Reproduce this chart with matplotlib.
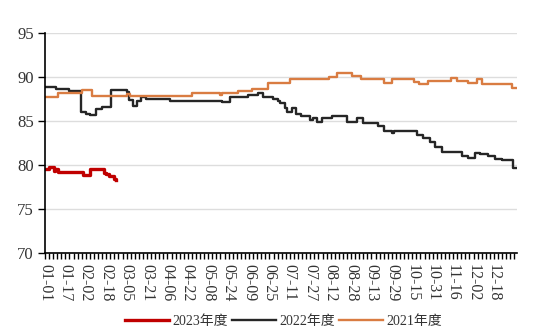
import datetime as dt
import matplotlib
matplotlib.use("Agg")
import matplotlib.pyplot as plt
from matplotlib.ticker import MultipleLocator

plt.rcParams['font.family'] = ['Liberation Serif', 'Noto Sans CJK SC', 'DejaVu Sans']

# step points (day of season, value) for each season
days_2023 = [0, 3, 7, 8, 10, 30, 35, 46, 48, 50, 54, 56]
vals_2023 = [79.5, 79.8, 79.3, 79.5, 79.2, 78.9, 79.5, 79.1, 79.0, 78.7, 78.4, 78.3]

days_2022 = [0, 9, 19, 28, 32, 35, 40, 45, 52, 64, 66, 69, 72, 75, 79, 98,
             139, 145, 159, 167, 171, 179, 183, 184, 188, 190, 194, 197, 201,
             208, 210, 213, 217, 225, 237, 245, 249, 261, 266, 272, 274, 292,
             296, 302, 306, 311, 327, 332, 337, 341, 347, 353, 358, 367, 369]
vals_2022 = [88.85, 88.6, 88.4, 86.0, 85.8, 85.7, 86.3, 86.6, 88.5, 88.3, 87.4,
             86.7, 87.2, 87.7, 87.5, 87.3, 87.1, 87.7, 87.9, 88.1, 87.7, 87.5,
             87.3, 87.0, 86.4, 86.0, 86.4, 85.8, 85.6, 85.1, 85.3, 84.9, 85.3,
             85.5, 84.9, 85.3, 84.8, 84.4, 83.9, 83.6, 83.8, 83.4, 83.0, 82.6,
             82.0, 81.5, 81.0, 80.8, 81.4, 81.2, 81.0, 80.7, 80.5, 79.6, 79.6]

days_2021 = [0, 10, 29, 37, 64, 67, 115, 137, 139, 151, 162, 175, 192, 223,
             229, 241, 248, 266, 272, 289, 293, 300, 318, 323, 332, 339, 343,
             366, 369]
vals_2021 = [87.65, 88.1, 88.5, 87.8, 88.0, 87.8, 88.2, 87.9, 88.2, 88.4, 88.6,
             89.3, 89.8, 90.0, 90.4, 90.1, 89.7, 89.3, 89.7, 89.4, 89.2, 89.5,
             89.9, 89.55, 89.3, 89.7, 89.2, 88.7, 88.7]

labels = ['2023年度', '2022年度', '2021年度']
colors = ['#C00000', '#262626', '#D97C42']

# date labels every 16 days on a leap-year calendar
start = dt.date(2020, 1, 1)
tick_days = list(range(0, 366, 16))
tick_labels = [(start + dt.timedelta(days=d)).strftime('%m-%d') for d in tick_days]

fig = plt.figure(figsize=(5.5, 3.32), dpi=100)
ax = fig.add_axes([0.0818, 0.238, 0.858, 0.6635])

ax.plot(days_2023, vals_2023, drawstyle='steps-post', color=colors[0], lw=2.4, label=labels[0])
ax.plot(days_2022, vals_2022, drawstyle='steps-post', color=colors[1], lw=1.7, label=labels[1])
ax.plot(days_2021, vals_2021, drawstyle='steps-post', color=colors[2], lw=1.7, label=labels[2])

ax.set_xlim(0, 370)
ax.set_ylim(70, 95)
ax.set_yticks([70, 75, 80, 85, 90, 95])
ax.grid(axis='y', color='#DDDDDD', lw=1)
ax.set_axisbelow(True)

ax.set_xticks(tick_days)
ax.set_xticklabels(tick_labels, rotation=270, fontsize=11.5)
ax.xaxis.set_minor_locator(MultipleLocator(3.2))
ax.tick_params(axis='x', which='both', length=4, width=1, pad=4, color='black')
ax.tick_params(axis='y', length=5, width=1, pad=3, labelsize=12, labelcolor='#333333')
ax.tick_params(axis='x', labelcolor='#333333')

for s in ['top', 'right']:
    ax.spines[s].set_visible(False)
for s in ['left', 'bottom']:
    ax.spines[s].set_linewidth(1.2)
    ax.spines[s].set_color('black')

fig.legend(loc='lower center', bbox_to_anchor=(0.515, -0.025), ncol=3, frameon=False,
           fontsize=10, handlelength=3.2, handletextpad=0.2, columnspacing=0.3,
           labelcolor='#333333')

fig.savefig('out.png', dpi=100)
